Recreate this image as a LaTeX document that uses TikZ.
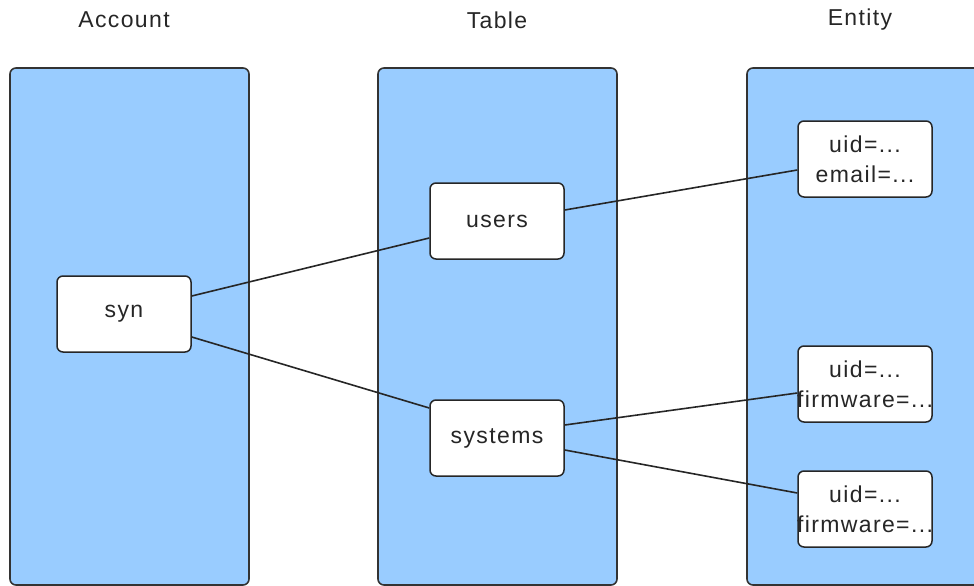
\documentclass[tikz,border=0pt]{standalone}
\usepackage{fontspec}
\setmainfont[LetterSpace=6]{Liberation Sans}
\begin{document}
\begin{tikzpicture}[x=1pt,y=-1pt,
  panel/.style={draw=black!80,line width=1.6pt,fill=lanefill,rounded corners=6pt},
  item/.style={draw=black!85,line width=1.5pt,fill=white,rounded corners=6pt,
    minimum width=134pt,minimum height=76pt,inner sep=0pt,align=center,
    font=\fontsize{23}{30}\selectfont,text=black!85},
  head/.style={font=\fontsize{23}{27}\selectfont,text=black!85},
  link/.style={draw=black!85,line width=1.6pt}]
\definecolor{lanefill}{HTML}{99CCFF}
\useasboundingbox (0,0) rectangle (974,586);

% swimlanes
\begin{scope}
\clip (0,0) rectangle (974,586);
\draw[panel] (10,68) rectangle (249,585);
\draw[panel] (378,68) rectangle (617,585);
\draw[panel] (747,68) rectangle (990,585);
\end{scope}

% lane headings
\node[head] (hacc) at (124,20) {Account};
\node[head] (htab) at (497,20) {Table};
\node[head] (hent) at (860,20) {Entity};

% records
\node[item] (syn) at (124,314) {syn};
\node[item] (users) at (497,221) {users};
\node[item] (systems) at (497,438) {systems};
\node[item] (e1) at (865,159) {\makebox[0pt]{uid=...}\\\makebox[0pt]{email=...}};
\node[item] (e2) at (865,384) {\makebox[0pt]{uid=...}\\\makebox[0pt]{firmware=...}};
\node[item] (e3) at (865,509) {\makebox[0pt]{uid=...}\\\makebox[0pt]{firmware=...}};

% links
\draw[link] ([yshift=18pt]syn.east) -- ([yshift=-17pt]users.west);
\draw[link] ([yshift=-23pt]syn.east) -- ([yshift=30pt]systems.west);
\draw[link] ([yshift=11pt]users.east) -- ([yshift=-11pt]e1.west);
\draw[link] ([yshift=13pt]systems.east) -- ([yshift=-9pt]e2.west);
\draw[link] ([yshift=-12pt]systems.east) -- ([yshift=16pt]e3.west);
\end{tikzpicture}
\end{document}
